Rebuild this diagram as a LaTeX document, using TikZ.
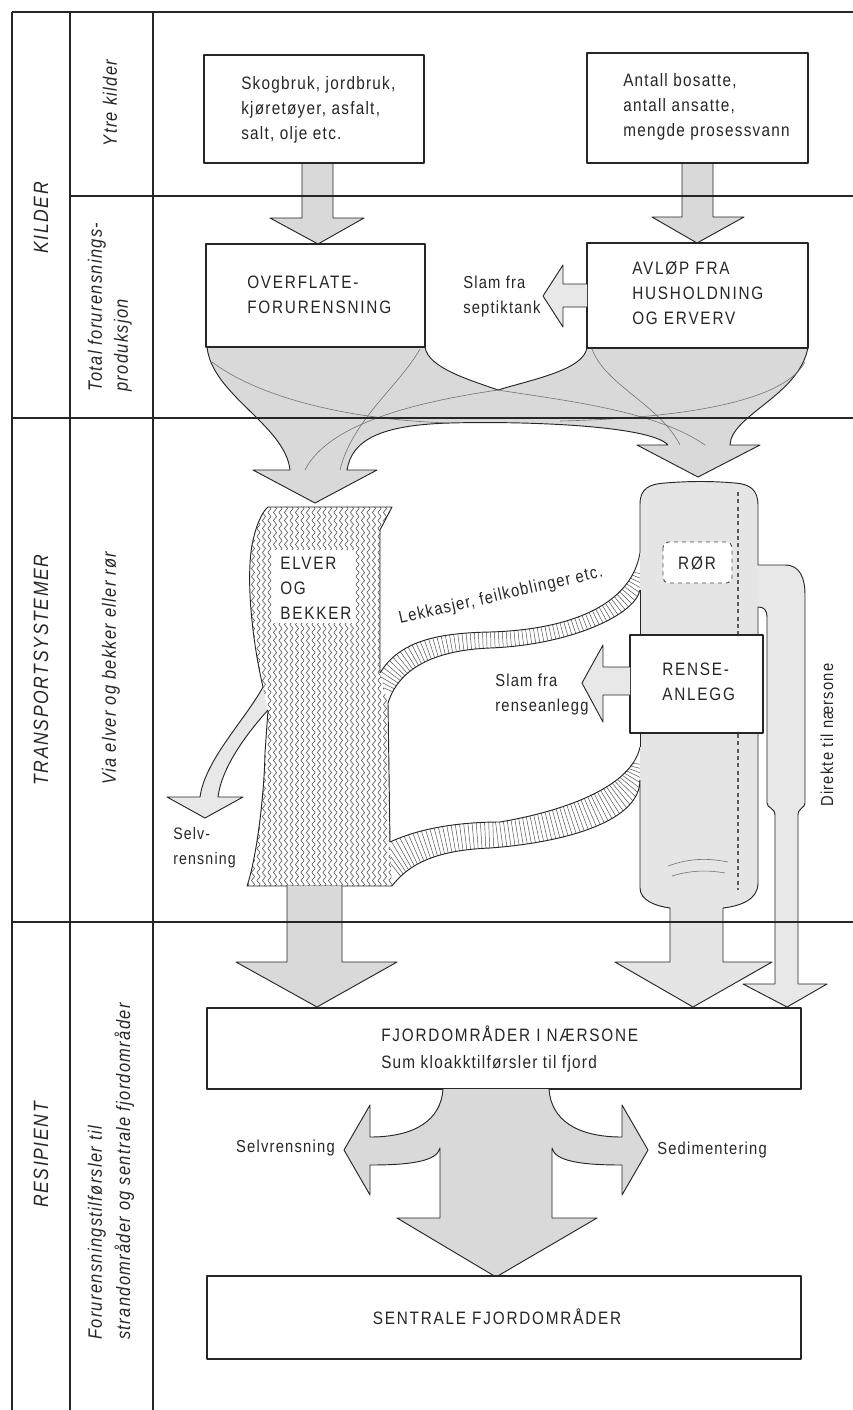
\documentclass[tikz,border=0pt]{standalone}
\usepackage{fontspec}
\setmainfont{Liberation Sans}[FakeStretch=0.85,LetterSpace=7]
\usetikzlibrary{decorations.pathmorphing,decorations.pathreplacing}
\begin{document}
\begin{tikzpicture}[x=0.75pt,y=-0.75pt,line join=round,
  frameline/.style={draw=black!85,line width=1pt},
  boxl/.style={draw=black!85,line width=1pt,fill=white},
  stip/.style={fill=black!15},
  stipl/.style={fill=black!9},
  outl/.style={draw=black!85,line width=0.7pt},
  innerl/.style={draw=black!55,line width=0.45pt},
  txt/.style={font=\fontsize{13.5}{18.75}\selectfont,align=left,inner sep=0pt,text=black!85},
  lab/.style={font=\fontsize{13}{18.75}\selectfont,align=left,inner sep=0pt,text=black!85},
  caps/.style={font=\fontsize{13.5}{18.75}\selectfont\addfontfeatures{LetterSpace=10},align=left,inner sep=0pt,text=black!85},
  sidecap/.style={font=\fontsize{15.5}{19}\selectfont\itshape\addfontfeatures{LetterSpace=8},rotate=90,inner sep=0pt,text=black!85},
  sidetxt/.style={font=\fontsize{14.5}{19.5}\selectfont\itshape,rotate=90,inner sep=0pt,align=left,text=black!85},
  elvwave/.style={draw=black!75,line width=0.38pt,decorate,decoration={snake,amplitude=1.2pt,segment length=6pt}},
  pipehatch/.style={draw=black!70,line width=0.35pt,decorate,decoration={ticks,segment length=3pt,amplitude=18pt}},
]
\useasboundingbox (0,0) rectangle (853,1410);

% ---------- crossing flows below the source boxes ----------
\def\flowpath{(207,347) .. controls (212,395) and (285,425) .. (290,470) -- (253,470) -- (315,503) -- (377,470) -- (347,470) .. controls (352,440) and (380,425) .. (450,423) .. controls (520,421) and (650,425) .. (668,445) -- (637,445) -- (698,477) -- (760,445) -- (730,445) .. controls (731,415) and (800,395) .. (808,347) -- (587,347) .. controls (585,370) and (530,380) .. (498,390) .. controls (470,380) and (428,368) .. (425,347) -- cycle}
\filldraw[stip,outl] \flowpath;
\draw[innerl] (212,362) .. controls (260,398) and (350,420) .. (450,423);
\draw[innerl] (805,362) .. controls (785,400) and (690,418) .. (560,421);
\draw[innerl] (498,390) .. controls (560,400) and (655,410) .. (705,445);
\draw[innerl] (498,390) .. controls (430,400) and (330,420) .. (305,470);
\draw[innerl] (420,349) .. controls (400,385) and (352,420) .. (340,470);
\draw[innerl] (592,349) .. controls (605,385) and (660,405) .. (680,445);

% ---------- arrows from outer sources ----------
\filldraw[stip,outl] (302,163) -- (302,218) -- (270,218) -- (318,244) -- (364,218) -- (333,218) -- (333,163);
\filldraw[stip,outl] (682,163) -- (682,217) -- (652,217) -- (697,243) -- (744,217) -- (713,217) -- (713,163);

% ---------- boxes of the source section ----------
\draw[boxl] (204,55) rectangle (424,163);
\draw[boxl] (587,53) rectangle (808,163);
\draw[boxl] (206,244) rectangle (425,347);
\draw[boxl] (587,243) rectangle (808,348);
\filldraw[stipl,outl] (587,284) -- (563,284) -- (563,265) -- (543,296) -- (563,327) -- (563,307) -- (587,307);

% ---------- Selvrensning branch ----------
\filldraw[stipl,outl] (263,687) .. controls (245,720) and (205,760) .. (200,797) -- (167,797) -- (205,818) -- (243,797) -- (218,797) .. controls (222,765) and (250,730) .. (268,710);

% ---------- ELVER OG BEKKER ----------
\def\elverpath{(268,507) -- (392,507) -- (380,530) -- (380,673) -- (388,703) -- (390,842) -- (392,886) -- (247,886) .. controls (256,860) and (264,800) .. (265,753) -- (268,710) -- (263,687) .. controls (252,640) and (246,580) .. (252,545) .. controls (256,525) and (262,512) .. (268,507) -- cycle}
\fill[white] \elverpath;
\begin{scope}
\clip \elverpath;
\foreach \xx in {242,247.5,...,398}{\draw[elvwave] (\xx,498) -- (\xx,892);}
\end{scope}
\fill[white] (272,550) rectangle (355,623);
\draw[outl] (380,673) -- (380,530) -- (392,507) -- (268,507) .. controls (262,512) and (256,525) .. (252,545) .. controls (246,580) and (252,640) .. (263,687);
\draw[outl] (268,710) -- (265,753) .. controls (264,800) and (256,860) .. (247,886) -- (392,886);
\draw[outl] (390,842) -- (388,703);

% ---------- leakage pipes ----------
\def\pipeApath{(380,673) .. controls (400,640) and (440,633) .. (490,632) .. controls (560,630) and (630,610) .. (640,553) -- (640,590) .. controls (635,615) and (570,645) .. (490,648) .. controls (440,650) and (400,665) .. (388,703) -- cycle}
\def\pipeBpath{(390,842) .. controls (420,828) and (460,822) .. (500,822) .. controls (570,810) and (632,785) .. (640,747) -- (640,780) .. controls (640,820) and (570,842) .. (490,848) .. controls (440,850) and (410,862) .. (392,886) -- cycle}
\fill[white] \pipeApath;
\fill[white] \pipeBpath;
\begin{scope}
\clip \pipeApath;
\draw[pipehatch] (384,688) .. controls (400,652) and (440,641) .. (490,640) .. controls (565,638) and (632,612) .. (640,571);
\end{scope}
\begin{scope}
\clip \pipeBpath;
\draw[pipehatch] (391,864) .. controls (415,845) and (450,836) .. (495,835) .. controls (570,826) and (636,802) .. (640,763);
\end{scope}
\draw[outl] (380,673) .. controls (400,640) and (440,633) .. (490,632) .. controls (560,630) and (630,610) .. (640,553);
\draw[outl] (388,703) .. controls (400,665) and (440,650) .. (490,648) .. controls (570,645) and (635,615) .. (640,590);
\draw[outl] (390,842) .. controls (420,828) and (460,822) .. (500,822) .. controls (570,810) and (632,785) .. (640,747);
\draw[outl] (392,886) .. controls (410,862) and (440,850) .. (490,848) .. controls (570,842) and (640,820) .. (640,780);

% ---------- RØR cylinder ----------
\def\cylpath{(640,504) .. controls (640,488) and (650,484) .. (665,483) .. controls (690,481) and (712,481) .. (735,483) .. controls (750,484) and (758,490) .. (758,505) -- (758,883) .. controls (758,900) and (740,906) .. (723,908) -- (723,962) -- (772,962) -- (693,1007) -- (615,962) -- (670,962) -- (670,908) .. controls (655,906) and (640,900) .. (640,888) -- cycle}
\fill[black!10] \cylpath;
\filldraw[stipl,outl] (758,565) -- (785,565) .. controls (800,565) and (805,578) .. (805,595) -- (805,803) .. controls (805,808) and (798,808) .. (798,815) -- (798,984) -- (827,984) -- (787,1007) -- (743,984) -- (775,984) -- (775,815) .. controls (775,808) and (767,808) .. (767,803) -- (767,617) .. controls (767,610) and (764,607) .. (758,607);
\draw[outl] (640,553) -- (640,504) .. controls (640,488) and (650,484) .. (665,483) .. controls (690,481) and (712,481) .. (735,483) .. controls (750,484) and (758,490) .. (758,505) -- (758,565);
\draw[outl] (758,607) -- (758,883) .. controls (758,900) and (740,906) .. (723,908) -- (723,962) -- (772,962) -- (693,1007) -- (615,962) -- (670,962) -- (670,908) .. controls (655,906) and (640,900) .. (640,888) -- (640,780);
\draw[outl] (640,747) -- (640,590);
\draw[black!65,line width=0.8pt,dash pattern=on 3pt off 2.5pt] (738,492) -- (738,890);
\draw[innerl] (668,866) .. controls (690,858) and (708,858) .. (728,862);
\draw[innerl] (672,876) .. controls (692,870) and (708,870) .. (725,873);
\draw[black!70,line width=0.7pt,dashed,rounded corners=4pt,fill=white] (663,542) rectangle (732,583);
\draw[boxl] (630,635) rectangle (763,733);
\filldraw[stipl,outl] (630,667) -- (603,667) -- (603,645) -- (582,683) -- (603,722) -- (603,695) -- (630,695);

% ---------- into the fjord ----------
\filldraw[stip,outl] (287,886) -- (287,962) -- (236,962) -- (317,1007) -- (397,962) -- (342,962) -- (342,886);
\draw[boxl] (207,1008) rectangle (801,1089);
\filldraw[stip,outl] (443,1089) .. controls (441,1120) and (415,1137) .. (370,1137) -- (370,1105) -- (344,1150) -- (370,1195) -- (370,1165) .. controls (412,1165) and (437,1161) .. (440,1148) -- (440,1218) -- (397,1218) -- (496,1277) -- (597,1218) -- (552,1218) -- (552,1148) .. controls (555,1161) and (580,1165) .. (622,1165) -- (622,1195) -- (648,1150) -- (622,1105) -- (622,1137) .. controls (577,1137) and (551,1120) .. (549,1089);
\draw[boxl] (207,1276) rectangle (801,1359);

% ---------- texts ----------
\node[sidecap] (tkilder) at (41,218) {KILDER};
\node[sidetxt] (tytre) at (110,103) {Ytre kilder};
\node[sidetxt,anchor=west] (ttotal) at (110,392) {Total forurensnings-\\produksjon};
\node[sidecap] (ttrans) at (41,670) {TRANSPORTSYSTEMER};
\node[sidetxt] (tvia) at (111,668) {Via elver og bekker eller rør};
\node[sidecap] (tresip) at (41,1155) {RESIPIENT};
\node[sidetxt,anchor=west] (tforur) at (111,1340) {Forurensningstilførsler til\\[1.5pt]strandområder og sentrale fjordområder};

\node[txt,anchor=west] (tb1) at (241,110) {Skogbruk, jordbruk,\\kjøretøyer, asfalt,\\salt, olje etc.};
\node[txt,anchor=west] (tb2) at (623,107) {Antall bosatte,\\antall ansatte,\\mengde prosessvann};
\node[caps,anchor=west] (tb3) at (247,295) {OVERFLATE-\\FORURENSNING};
\node[caps,anchor=west] (tb4) at (632,293) {AVLØP FRA\\HUSHOLDNING\\OG ERVERV};
\node[lab,anchor=west] (tslam1) at (463,297) {Slam fra\\septiktank};
\node[caps,anchor=west] (telv) at (280,588) {ELVER\\OG\\BEKKER};
\node[caps] (tror) at (697,563) {RØR};
\node[caps,anchor=west] (trense) at (662,682) {RENSE-\\ANLEGG};
\node[lab,anchor=west] (tslam2) at (495,695) {Slam fra\\renseanlegg};
\node[lab,rotate=13] (tlekk) at (501,596) {Lekkasjer, feilkoblinger etc.};
\node[lab,anchor=west,font=\fontsize{12.5}{18.5}\selectfont] (tselv1) at (173,848) {Selv-\\rensning};
\node[lab,rotate=90] (tdir) at (827,735) {Direkte til nærsone};
\node[caps,anchor=west] (tfj) at (381,1049) {FJORDOMRÅDER I NÆRSONE\\[1pt]\addfontfeatures{LetterSpace=7}Sum kloakktilførsler til fjord};
\node[caps] (tsen) at (497,1317) {SENTRALE FJORDOMRÅDER};
\node[lab,anchor=east] (tselv2) at (335,1148) {Selvrensning};
\node[lab,anchor=west] (tsed) at (657,1150) {Sedimentering};

% ---------- frame ----------
\draw[frameline,line width=1.3pt] (12,12) -- (853,12);
\draw[frameline,line width=1.3pt] (12,12) -- (12,1410);
\draw[frameline] (70,12) -- (70,1410);
\draw[frameline] (153,12) -- (153,1410);
\draw[frameline] (70,196) -- (853,196);
\draw[frameline] (12,418) -- (853,418);
\draw[frameline] (12,922) -- (853,922);
\end{tikzpicture}
\end{document}
